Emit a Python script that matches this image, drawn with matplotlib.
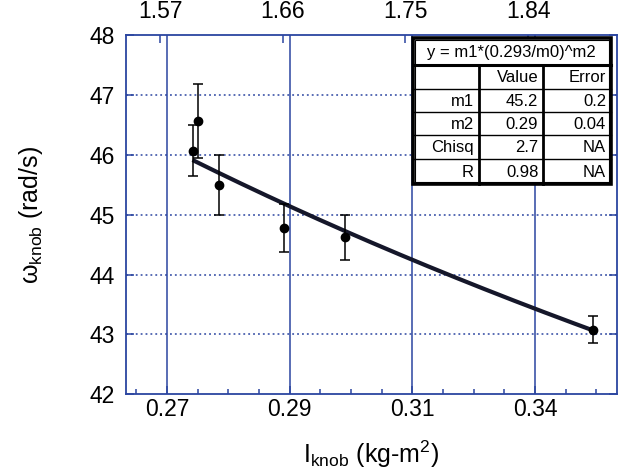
import numpy as np
import matplotlib.pyplot as plt
from matplotlib.patches import Rectangle
from matplotlib.lines import Line2D

plt.rcParams['font.family'] = ['Liberation Sans', 'DejaVu Sans']
plt.rcParams['mathtext.fontset'] = 'custom'
plt.rcParams['mathtext.rm'] = 'Liberation Sans'
plt.rcParams['mathtext.it'] = 'Liberation Sans'

# measured data
I_knob = [0.2747, 0.2757, 0.2796, 0.2915, 0.3027, 0.3481]
w_knob = [46.07, 46.57, 45.49, 44.77, 44.62, 43.08]
w_err = [0.43, 0.62, 0.50, 0.40, 0.37, 0.23]

# fit curve y = m1*(0.293/x)^m2 (as drawn)
m1_curve = 45.12
m2_curve = 0.27

# fit table
tbl_title = "y = m1*(0.293/m0)^m2"
tbl_head = ["", "Value", "Error"]
tbl_rows = [["m1", "45.2", "0.2"],
            ["m2", "0.29", "0.04"],
            ["Chisq", "2.7", "NA"],
            ["R", "0.98", "NA"]]

x_ticks = [0.27, 0.2925, 0.315, 0.3375]
x_labels = ["0.27", "0.29", "0.31", "0.34"]
top_ticks = [1.57, 1.66, 1.75, 1.84]
top_labels = ["1.57", "1.66", "1.75", "1.84"]

blue = '#2b45a0'

fig = plt.figure(figsize=(6.22, 4.70), dpi=100)
W, H = 622, 470
ax = fig.add_axes([126/W, 1-394.3/H, 490.7/W, 359.3/H])

ax.set_xlim(0.2625, 0.3525)
ax.set_ylim(42, 48)

# grid
for xt in x_ticks:
    ax.axvline(xt, color=blue, lw=1.1, zorder=1)
for yt in [43, 44, 45, 46, 47]:
    ax.axhline(yt, color=blue, lw=1.1, ls=(0, (1.2, 2.0)), zorder=1)

xf = np.linspace(min(I_knob), max(I_knob), 200)
ax.plot(xf, m1_curve*(0.293/xf)**m2_curve, color='#15172a', lw=3, zorder=3,
        solid_capstyle='butt')
ax.errorbar(I_knob, w_knob, yerr=w_err, fmt='o', color='black', ms=6,
            elinewidth=1.1, capsize=3.5, capthick=1.1, zorder=4)

ax.set_xticks(x_ticks)
ax.set_xticklabels(x_labels)
ax.set_xticks(np.arange(0.264375, 0.3525, 0.005625), minor=True)
ax.set_yticks([42, 43, 44, 45, 46, 47, 48])
ax.tick_params(axis='both', which='major', direction='in', length=6,
               width=1.1, color=blue, labelsize=16.5, right=True)
ax.tick_params(axis='x', which='major', pad=3)
ax.tick_params(axis='y', pad=8)
ax.tick_params(axis='x', which='minor', direction='in', length=3.5,
               width=1.1, color=blue)
for s in ax.spines.values():
    s.set_color(blue)
    s.set_linewidth(1.3)

ax.set_xlabel(r'$\mathrm{I}_{\mathrm{knob}}$ (kg-m$^2$)', fontsize=18, labelpad=12)
ax.set_ylabel(r'$\omega_{\mathrm{knob}}$ (rad/s)', fontsize=18, labelpad=32)

ax2 = ax.twiny()
ax2.set_xlim(1.545, 1.905)
ax2.set_xticks(top_ticks)
ax2.set_xticklabels(top_labels)
ax2.tick_params(axis='x', direction='in', length=6, width=1.1, color=blue,
                labelsize=16.5, pad=9)
for s in ax2.spines.values():
    s.set_visible(False)

# fit result table, in figure pixel coordinates
def fp(px, py):
    return px / W, 1 - py / H

tf = fig.transFigure
x0, x1 = 412.7, 611.0
y0, y1 = 37.7, 184.0
cols = [412.7, 479.0, 543.3, 611.0]
rows = [37.7, 65.0, 88.7, 111.7, 135.0, 158.7, 184.0]

fig.add_artist(Rectangle(fp(x0, y1), (x1-x0)/W, (y1-y0)/H, transform=tf,
                         facecolor='white', edgecolor='black', lw=2.6, zorder=10))
fig.add_artist(Rectangle(fp(x0+2.5, y1-2.5), (x1-x0-5)/W, (y1-y0-5)/H,
                         transform=tf, facecolor='none', edgecolor='black',
                         lw=0.8, zorder=11))

def hline(py, lw, xa=x0, xb=x1):
    a, b = fp(xa, py), fp(xb, py)
    fig.add_artist(Line2D([a[0], b[0]], [a[1], b[1]], transform=tf,
                          color='black', lw=lw, zorder=11))

def vline(px, lw, ya, yb):
    a, b = fp(px, ya), fp(px, yb)
    fig.add_artist(Line2D([a[0], b[0]], [a[1], b[1]], transform=tf,
                          color='black', lw=lw, zorder=11))

hline(rows[1], 2.2)
for r in rows[2:-1]:
    hline(r, 1.0)
for c in cols[1:-1]:
    vline(c, 2.0, rows[1], y1)

fig.text(*fp((x0+x1)/2, (rows[0]+rows[1])/2 + 1), tbl_title, ha='center',
         va='center', fontsize=12, zorder=12)
for i, line in enumerate([tbl_head] + tbl_rows):
    yc = (rows[i+1] + rows[i+2]) / 2 + 1
    for j, txt in enumerate(line):
        fig.text(*fp(cols[j+1] - 5, yc), txt, ha='right', va='center',
                 fontsize=12, zorder=12)

plt.savefig("out.png", dpi=100)
